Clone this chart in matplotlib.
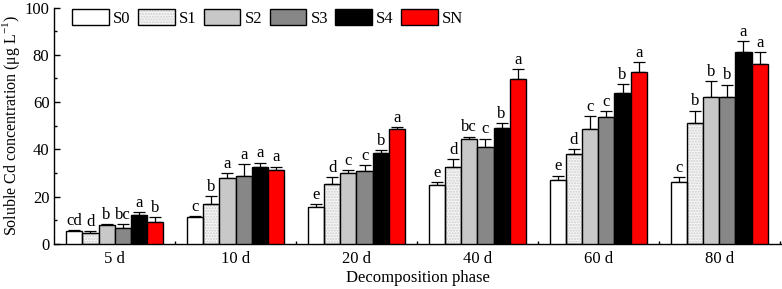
import numpy as np
import matplotlib
matplotlib.use("Agg")
import matplotlib.pyplot as plt
from matplotlib.patches import Patch
from matplotlib.ticker import MultipleLocator, FixedLocator

plt.rcParams['font.family'] = ['Liberation Serif', 'DejaVu Serif']
plt.rcParams['mathtext.fontset'] = 'custom'
plt.rcParams['mathtext.rm'] = 'Liberation Serif'
plt.rcParams['font.size'] = 12

# data
phases = ["5 d", "10 d", "20 d", "40 d", "60 d", "80 d"]
treatments = ["S0", "S1", "S2", "S3", "S4", "SN"]

S0 = [5.5, 11.5, 15.8, 25.1, 27.1, 26.1]
S1 = [4.5, 16.9, 25.5, 32.4, 37.9, 51.3]
S2 = [8.0, 27.8, 29.9, 44.3, 48.6, 62.3]
S3 = [6.9, 28.8, 30.9, 40.9, 53.8, 62.0]
S4 = [12.4, 32.7, 38.3, 49.0, 63.7, 81.3]
SN = [9.2, 31.3, 48.6, 69.8, 72.9, 76.0]

S0_err = [0.4, 0.4, 1.0, 1.0, 1.8, 2.1]
S1_err = [1.0, 3.5, 2.7, 3.5, 2.3, 5.1]
S2_err = [0.3, 2.1, 1.3, 1.1, 5.5, 6.6]
S3_err = [1.4, 4.9, 2.3, 3.7, 2.5, 5.4]
S4_err = [1.0, 1.7, 1.3, 2.3, 3.8, 4.5]
SN_err = [2.1, 1.4, 0.7, 4.2, 4.0, 5.1]

S0_sig = ["cd", "c", "e", "e", "e", "c"]
S1_sig = ["d", "b", "d", "d", "d", "b"]
S2_sig = ["b", "a", "c", "bc", "c", "b"]
S3_sig = ["bc", "a", "c", "c", "c", "b"]
S4_sig = ["a", "a", "b", "b", "b", "a"]
SN_sig = ["b", "a", "a", "a", "a", "a"]

means = [S0, S1, S2, S3, S4, SN]
errs = [S0_err, S1_err, S2_err, S3_err, S4_err, SN_err]
sigs = [S0_sig, S1_sig, S2_sig, S3_sig, S4_sig, SN_sig]
colors = ["white", "#f5f5f5", "#c8c8c8", "#878787", "black", "#ff0000"]
dot_color = '#cfcfcf'

fig = plt.figure(figsize=(7.82, 2.89), dpi=100)
ax = fig.add_axes([0.0694, 0.1557, 0.9306, 0.8183])

x = np.arange(len(phases))
w = 0.134
for i in range(6):
    pos = x + (i - 2.5) * w
    if i == 1:
        # stippled fill drawn under a separate black outline
        ax.bar(pos, means[i], w, color=colors[i], hatch='......',
               edgecolor=dot_color, linewidth=0, zorder=2)
        ax.bar(pos, means[i], w, fill=False, edgecolor='black', linewidth=1.0, zorder=3)
    else:
        ax.bar(pos, means[i], w, color=colors[i], edgecolor='black', linewidth=1.0, zorder=3)
    ax.errorbar(pos, means[i], yerr=[np.zeros(6), errs[i]], fmt='none',
                ecolor='black', elinewidth=0.9, capsize=4, capthick=0.9, zorder=2)
    for j in range(6):
        ax.text(pos[j], means[i][j] + errs[i][j] + 0.5, sigs[i][j],
                ha='center', va='bottom', fontsize=12)

ax.set_xlim(-0.5, 5.52)
ax.set_ylim(0, 100)
ax.set_xticks(x)
ax.set_xticklabels(phases)
ax.xaxis.set_minor_locator(FixedLocator(x + 0.5))
ax.yaxis.set_major_locator(MultipleLocator(20))
ax.yaxis.set_minor_locator(MultipleLocator(10))
ax.tick_params(axis='y', which='major', direction='in', length=4, width=1)
ax.tick_params(axis='y', which='minor', direction='in', length=2.5, width=1)
ax.tick_params(axis='x', which='major', length=0, pad=5)
ax.tick_params(axis='x', which='minor', direction='in', length=2.5, width=1)
for s in ['top', 'right']:
    ax.spines[s].set_visible(False)
for s in ['left', 'bottom']:
    ax.spines[s].set_linewidth(1.0)

ax.set_xlabel("Decomposition phase", labelpad=2)
ax.set_ylabel(r"Soluble Cd concentration (μg L$^{-1}$)", fontsize=11.5)
ax.yaxis.set_label_coords(-0.045, 0.5)

handles = [Patch(facecolor=colors[0], edgecolor='black', linewidth=1.0)]
handles.append((Patch(facecolor=colors[1], edgecolor=dot_color, hatch='......', linewidth=0),
                Patch(fill=False, edgecolor='black', linewidth=1.0)))
for c in colors[2:]:
    handles.append(Patch(facecolor=c, edgecolor='black', linewidth=1.0))
fig.legend(handles, treatments, loc='upper left', bbox_to_anchor=(72 / 782, 1 - 9 / 289),
           ncol=6, frameon=False, borderpad=0, borderaxespad=0,
           handlelength=2.2, handleheight=1.1, handletextpad=0.25, columnspacing=0.45,
           fontsize=12)

fig.savefig("out.png", dpi=100)
